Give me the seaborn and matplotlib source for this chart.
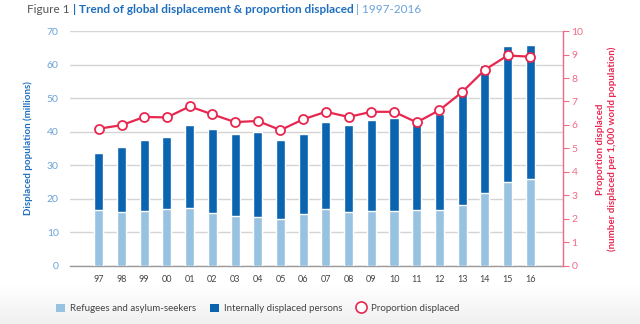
import matplotlib
matplotlib.use("Agg")
import matplotlib.pyplot as plt
import seaborn as sns
import pandas as pd
from matplotlib.patches import Rectangle
from matplotlib.lines import Line2D

years = ["97", "98", "99", "00", "01", "02", "03", "04", "05", "06",
         "07", "08", "09", "10", "11", "12", "13", "14", "15", "16"]
total = [33.7, 35.3, 37.4, 38.3, 42.1, 40.7, 39.3, 39.8, 37.4, 39.2,
         42.8, 41.9, 43.4, 44.0, 42.7, 45.2, 51.2, 59.9, 65.5, 65.8]
refugees = [16.5, 15.9, 16.2, 16.9, 17.1, 15.8, 14.8, 14.6, 13.9, 15.5,
            16.8, 16.0, 16.4, 16.4, 16.5, 16.6, 18.1, 21.7, 25.0, 25.8]
proportion = [5.84, 5.99, 6.34, 6.32, 6.79, 6.45, 6.12, 6.17, 5.78, 6.24,
              6.56, 6.34, 6.56, 6.56, 6.11, 6.63, 7.40, 8.35, 8.96, 8.91]

df = pd.DataFrame({"year": years, "total": total, "refugees": refugees,
                   "proportion": proportion})

LIGHT = "#97c2e1"
DARK = "#0a64b0"
RED = "#e8274f"
PINK = "#ee6a85"
BLUE_TXT = "#1f6fbf"
TICK_BLUE = "#6aa3da"

sns.set_theme(style="white")
plt.rcParams["font.family"] = ["Lato", "DejaVu Sans"]

fig = plt.figure(figsize=(6.4, 3.24), dpi=100)
# subtle gradient band at bottom
n = 24
for i in range(n):
    g = 1.0 - 0.06 * (i + 1) / n
    fig.patches.append(Rectangle((0, 0), 1, 0.12 * (n - i) / n,
                                 transform=fig.transFigure,
                                 facecolor=(g, g, g), edgecolor="none",
                                 zorder=-40 + i))

ax = fig.add_axes([0.109, 0.18, 0.771, 0.724])

sns.barplot(data=df, x="year", y="total", color=DARK, width=0.4,
            saturation=1, ax=ax, order=years, zorder=3)
sns.barplot(data=df, x="year", y="refugees", color=LIGHT, width=0.4,
            saturation=1, ax=ax, order=years, zorder=3)

ax.set_ylim(0, 70)
ax.set_yticks(range(0, 71, 10))
ax.set_xlim(-1.28, 20.45)
ax.yaxis.grid(True, color="#d4d4d4", linewidth=1.0, zorder=0)
ax.set_axisbelow(True)
for s in ["left", "right", "top"]:
    ax.spines[s].set_visible(False)
ax.spines["bottom"].set_color("#9a9a9a")
ax.spines["bottom"].set_linewidth(1.0)
ax.tick_params(axis="y", length=0, labelsize=7.5, labelcolor=TICK_BLUE, pad=8)
ax.tick_params(axis="x", length=0, labelsize=6.5, labelcolor="#444444", pad=7)
ax.set_xlabel("")
ax.set_ylabel("Displaced population (millions)", fontsize=7, fontweight="bold",
              color=BLUE_TXT, labelpad=10)

ax2 = ax.twinx()
sns.pointplot(data=df, x="year", y="proportion", order=years, color=RED,
              ax=ax2, markers="o", linestyles="-", markersize=6.5,
              markerfacecolor="white", markeredgecolor=RED,
              markeredgewidth=1.3, linewidth=1.6, zorder=5)
ax2.set_xlim(-1.28, 20.45)
ax2.set_ylim(0, 10)
ax2.set_yticks(range(0, 11))
for s in ["left", "top", "bottom"]:
    ax2.spines[s].set_visible(False)
ax2.spines["right"].set_visible(True)
ax2.spines["right"].set_color(PINK)
ax2.spines["right"].set_linewidth(1.0)
ax2.tick_params(axis="y", right=True, length=4, width=0.8, color=PINK,
                labelsize=7.5, labelcolor=PINK, pad=2)
ax2.set_xlabel("")
ax2.set_ylabel("")
fig.text(0.938, 0.54, "Proportion displaced", rotation=90, ha="center",
         va="center", fontsize=7, fontweight="bold", color=RED)
fig.text(0.957, 0.54, "(number displaced per 1,000 world population)",
         rotation=90, ha="center", va="center", fontsize=7, fontweight="bold",
         color=RED)

# Title
t1 = fig.text(0.042, 0.972, "Figure 1 ", fontsize=8.5, color="#555555",
              va="center", ha="left")
fig.canvas.draw()
r = fig.canvas.get_renderer()
bb = t1.get_window_extent(r)
x = bb.x1 / fig.bbox.width
t2 = fig.text(x, 0.972, "| Trend of global displacement & proportion displaced",
              fontsize=8.5, color=BLUE_TXT, fontweight="bold", va="center",
              ha="left")
bb2 = t2.get_window_extent(r)
x2 = bb2.x1 / fig.bbox.width
fig.text(x2, 0.972, " | 1997-2016", fontsize=8.5, color=TICK_BLUE,
         va="center", ha="left")

# Legend
handles = [Rectangle((0, 0), 1, 1, facecolor=LIGHT, edgecolor="none"),
           Rectangle((0, 0), 1, 1, facecolor=DARK, edgecolor="none"),
           Line2D([], [], marker="o", linestyle="none", markersize=8,
                  markerfacecolor="white", markeredgecolor=RED,
                  markeredgewidth=1.2)]
labels = ["Refugees and asylum-seekers", "Internally displaced persons",
          "Proportion displaced"]
fig.legend(handles, labels, loc="center left", bbox_to_anchor=(0.074, 0.048),
           ncol=3, frameon=False, fontsize=7, handlelength=0.9,
           handleheight=0.9, columnspacing=1.5, handletextpad=0.5,
           labelcolor="#444444")

fig.savefig("out.png", dpi=100)
